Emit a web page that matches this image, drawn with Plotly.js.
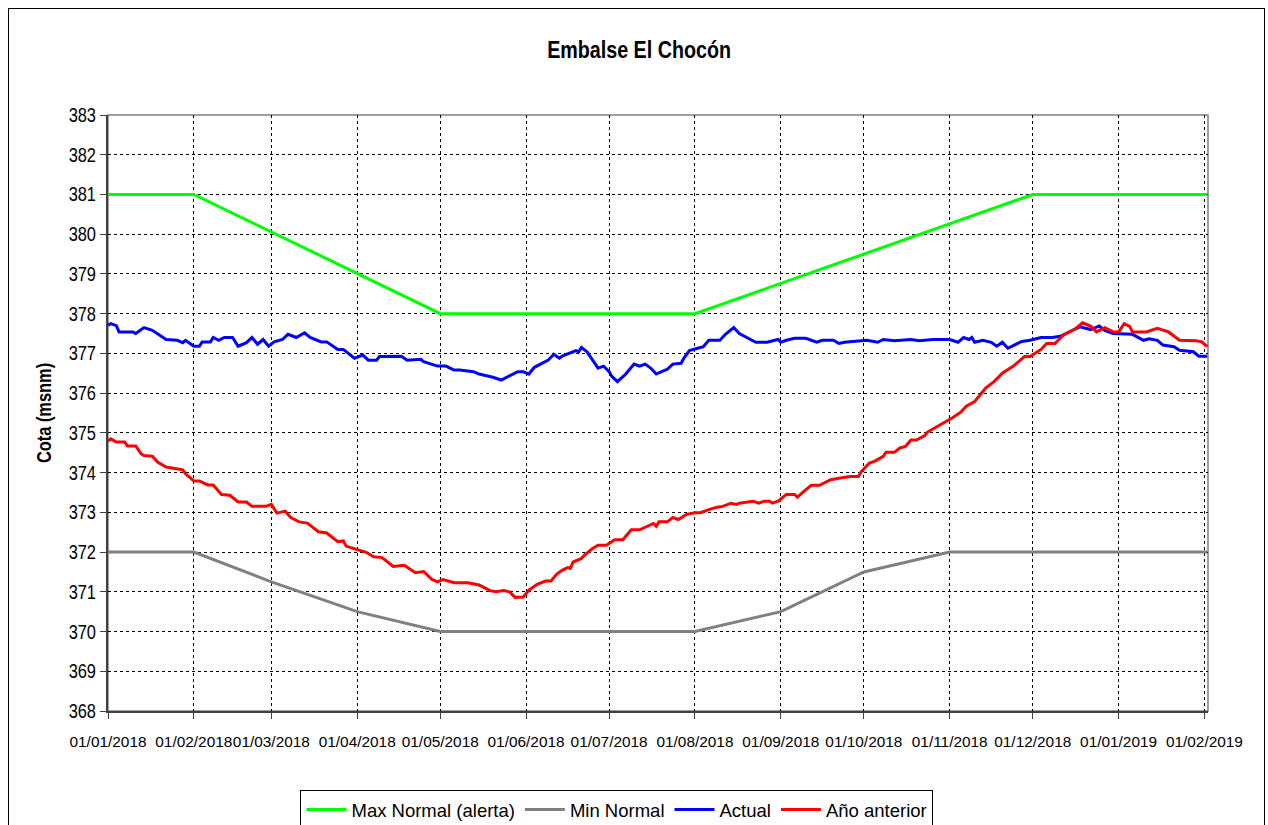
<!DOCTYPE html>
<html>
<head>
<meta charset="utf-8">
<script src="https://cdn.plot.ly/plotly-3.0.1.min.js"></script>
<style>
  html, body { margin: 0; padding: 0; background: #fff; overflow: hidden; }
  #frame { position: absolute; left: 8px; top: 8px; width: 1257px; height: 860px; border: 1px solid #000; box-sizing: border-box; pointer-events: none; z-index: 5; }
  #chart { position: absolute; left: 0; top: 0; width: 1268px; height: 860px; }
</style>
</head>
<body>
<div id="chart"></div>
<div id="frame"></div>
<script>
// ---- Data ----
const maxDates = ['2018-01-01','2018-02-01','2018-05-01','2018-08-01','2018-12-01','2019-02-02'];
const maxValues = [381, 381, 378, 378, 381, 381];

const minDates = ['2018-01-01','2018-02-01','2018-03-01','2018-04-01','2018-05-01','2018-08-01','2018-09-01','2018-10-01','2018-11-01','2019-02-02'];
const minValues = [372, 372, 371.25, 370.5, 370, 370, 370.5, 371.5, 372, 372];

const actualDates = ['2018-01-01','2018-01-02','2018-01-04','2018-01-05','2018-01-10','2018-01-11','2018-01-14','2018-01-17','2018-01-22','2018-01-26',
'2018-01-28','2018-01-29','2018-02-01','2018-02-03','2018-02-04','2018-02-07','2018-02-08','2018-02-10','2018-02-12','2018-02-15',
'2018-02-17','2018-02-20','2018-02-22','2018-02-24','2018-02-26','2018-02-28','2018-03-02','2018-03-05','2018-03-07','2018-03-10',
'2018-03-13','2018-03-15','2018-03-19','2018-03-21','2018-03-25','2018-03-27','2018-03-31','2018-04-03','2018-04-05','2018-04-08',
'2018-04-09','2018-04-13','2018-04-17','2018-04-19','2018-04-24','2018-04-25','2018-04-30','2018-05-03','2018-05-06','2018-05-08',
'2018-05-13','2018-05-15','2018-05-19','2018-05-20','2018-05-23','2018-05-25','2018-05-27','2018-05-29','2018-05-31','2018-06-02',
'2018-06-04','2018-06-07','2018-06-09','2018-06-11','2018-06-13','2018-06-14','2018-06-16','2018-06-19','2018-06-20','2018-06-21',
'2018-06-23','2018-06-25','2018-06-26','2018-06-27','2018-06-29','2018-07-01','2018-07-02','2018-07-04','2018-07-07','2018-07-10',
'2018-07-12','2018-07-14','2018-07-16','2018-07-18','2018-07-21','2018-07-22','2018-07-24','2018-07-27','2018-07-28','2018-07-30',
'2018-08-02','2018-08-04','2018-08-06','2018-08-10','2018-08-12','2018-08-15','2018-08-17','2018-08-20','2018-08-23','2018-08-27',
'2018-08-31','2018-09-01','2018-09-03','2018-09-06','2018-09-10','2018-09-14','2018-09-16','2018-09-20','2018-09-22','2018-09-24',
'2018-09-28','2018-10-02','2018-10-06','2018-10-08','2018-10-12','2018-10-18','2018-10-21','2018-10-26','2018-11-01','2018-11-04',
'2018-11-06','2018-11-08','2018-11-09','2018-11-10','2018-11-13','2018-11-16','2018-11-18','2018-11-20','2018-11-22','2018-11-25',
'2018-11-27','2018-11-30','2018-12-04','2018-12-08','2018-12-11','2018-12-15','2018-12-18','2018-12-22','2018-12-25','2018-12-27',
'2018-12-30','2019-01-06','2019-01-10','2019-01-12','2019-01-15','2019-01-17','2019-01-21','2019-01-23','2019-01-28','2019-01-30',
'2019-02-02'];
const actualValues = [377.71,377.75,377.70,377.54,377.54,377.50,377.65,377.58,377.35,377.33,
377.27,377.33,377.18,377.18,377.29,377.29,377.40,377.33,377.40,377.40,
377.18,377.27,377.40,377.23,377.35,377.18,377.29,377.35,377.48,377.40,
377.52,377.40,377.29,377.29,377.10,377.10,376.88,376.96,376.83,376.83,
376.92,376.93,376.93,376.83,376.85,376.79,376.68,376.68,376.58,376.58,
376.54,376.48,376.42,376.40,376.33,376.40,376.46,376.54,376.54,376.48,
376.65,376.77,376.83,376.98,376.88,376.93,376.98,377.07,377.04,377.15,
377.04,376.85,376.75,376.63,376.68,376.54,376.42,376.29,376.48,376.73,
376.68,376.73,376.63,376.48,376.57,376.60,376.73,376.75,376.88,377.07,
377.13,377.17,377.33,377.33,377.48,377.65,377.50,377.38,377.28,377.28,
377.35,377.28,377.33,377.38,377.38,377.28,377.33,377.33,377.25,377.28,
377.30,377.33,377.28,377.35,377.32,377.35,377.32,377.35,377.35,377.28,
377.40,377.35,377.40,377.28,377.33,377.28,377.18,377.28,377.13,377.22,
377.30,377.33,377.40,377.40,377.43,377.57,377.67,377.60,377.69,377.58,
377.50,377.48,377.33,377.37,377.33,377.21,377.17,377.08,377.04,376.93,
376.93];

const prevDates = ['2018-01-01','2018-01-02','2018-01-04','2018-01-07','2018-01-08','2018-01-11','2018-01-13','2018-01-14','2018-01-17','2018-01-19',
'2018-01-22','2018-01-25','2018-01-28','2018-01-29','2018-02-01','2018-02-03','2018-02-06','2018-02-08','2018-02-11','2018-02-14',
'2018-02-17','2018-02-20','2018-02-22','2018-02-27','2018-03-01','2018-03-03','2018-03-06','2018-03-08','2018-03-11','2018-03-14',
'2018-03-18','2018-03-21','2018-03-22','2018-03-25','2018-03-27','2018-03-28','2018-04-01','2018-04-04','2018-04-07','2018-04-10',
'2018-04-14','2018-04-18','2018-04-22','2018-04-25','2018-04-28','2018-04-30','2018-05-02','2018-05-06','2018-05-11','2018-05-15',
'2018-05-19','2018-05-21','2018-05-24','2018-05-26','2018-05-28','2018-05-31','2018-06-02','2018-06-05','2018-06-08','2018-06-10',
'2018-06-12','2018-06-14','2018-06-16','2018-06-17','2018-06-18','2018-06-21','2018-06-22','2018-06-25','2018-06-27','2018-06-30',
'2018-07-03','2018-07-06','2018-07-07','2018-07-09','2018-07-12','2018-07-15','2018-07-17','2018-07-18','2018-07-19','2018-07-22',
'2018-07-24','2018-07-26','2018-07-29','2018-08-01','2018-08-03','2018-08-06','2018-08-09','2018-08-11','2018-08-14','2018-08-16',
'2018-08-17','2018-08-20','2018-08-22','2018-08-24','2018-08-26','2018-08-28','2018-08-29','2018-08-31','2018-09-03','2018-09-06',
'2018-09-07','2018-09-09','2018-09-12','2018-09-15','2018-09-19','2018-09-23','2018-09-26','2018-09-29','2018-09-30','2018-10-03',
'2018-10-05','2018-10-08','2018-10-09','2018-10-12','2018-10-14','2018-10-16','2018-10-18','2018-10-20','2018-10-23','2018-10-24',
'2018-10-26','2018-10-29','2018-10-31','2018-11-02','2018-11-05','2018-11-07','2018-11-10','2018-11-14','2018-11-17','2018-11-20',
'2018-11-24','2018-11-28','2018-11-30','2018-12-04','2018-12-06','2018-12-09','2018-12-12','2018-12-16','2018-12-19','2018-12-22',
'2018-12-24','2018-12-27','2018-12-30','2019-01-01','2019-01-03','2019-01-05','2019-01-06','2019-01-11','2019-01-15','2019-01-19',
'2019-01-23','2019-01-27','2019-01-29','2019-01-31','2019-02-02'];
const prevValues = [374.79,374.85,374.77,374.77,374.67,374.67,374.47,374.43,374.41,374.26,
374.14,374.10,374.07,373.97,373.79,373.79,373.69,373.69,373.45,373.43,
373.26,373.26,373.15,373.15,373.20,372.98,373.03,372.87,372.76,372.73,
372.51,372.48,372.42,372.26,372.28,372.15,372.06,372.00,371.88,371.86,
371.64,371.67,371.48,371.51,371.31,371.25,371.31,371.23,371.23,371.17,
371.03,371.00,371.03,371.00,370.86,370.87,371.04,371.19,371.27,371.27,
371.44,371.54,371.61,371.59,371.75,371.84,371.92,372.09,372.17,372.17,
372.31,372.31,372.40,372.56,372.56,372.65,372.72,372.65,372.76,372.76,
372.87,372.82,372.95,372.99,372.99,373.07,373.13,373.15,373.23,373.20,
373.23,373.26,373.28,373.23,373.28,373.28,373.23,373.28,373.45,373.45,
373.38,373.51,373.68,373.68,373.82,373.87,373.90,373.90,374.02,374.24,
374.29,374.41,374.51,374.51,374.62,374.66,374.82,374.82,374.93,375.02,
375.10,375.21,375.31,375.38,375.52,375.67,375.79,376.13,376.29,376.50,
376.68,376.92,376.92,377.10,377.25,377.25,377.46,377.60,377.77,377.68,
377.54,377.65,377.54,377.54,377.75,377.68,377.54,377.54,377.63,377.54,
377.33,377.33,377.32,377.29,377.17];

const seriesNames = ['Max Normal (alerta)', 'Min Normal', 'Actual', 'Año anterior'];
const chartTitle = 'Embalse El Chocón';
const yTitle = 'Cota (msnm)';

// ---- Chart ----
const sans = '"Liberation Sans", Arial, sans-serif';

const traces = [
  { x: maxDates, y: maxValues, name: seriesNames[0], mode: 'lines', line: { color: '#00FF00', width: 3 } },
  { x: minDates, y: minValues, name: seriesNames[1], mode: 'lines', line: { color: '#808080', width: 3 } },
  { x: actualDates, y: actualValues, name: seriesNames[2], mode: 'lines', line: { color: '#0000FF', width: 3 } },
  { x: prevDates, y: prevValues, name: seriesNames[3], mode: 'lines', line: { color: '#FF0000', width: 3 } }
];

const layout = {
  width: 1268, height: 860,
  margin: { l: 108, r: 60, t: 115, b: 149 },
  paper_bgcolor: '#ffffff', plot_bgcolor: '#ffffff',
  font: { family: sans, size: 20, color: '#000' },
  title: { text: chartTitle, font: { family: sans, size: 24, weight: 'bold', color: '#000' },
           xref: 'container', yref: 'container', x: 0.504, y: 1 - 50 / 860, xanchor: 'center', yanchor: 'middle' },
  xaxis: {
    type: 'date', range: ['2018-01-01', '2019-02-02 07:00'],
    tick0: '2018-01-01', dtick: 'M1', tickformat: '%d/%m/%Y', tickangle: 0,
    ticklabelstandoff: 10,
    showgrid: true, gridcolor: '#000', griddash: '3px,3px', gridwidth: 1,
    showline: true, linecolor: '#404040', linewidth: 2,
    ticks: 'outside', ticklen: 6, tickcolor: '#404040', tickwidth: 1,
    tickfont: { family: sans, size: 15.4, color: '#000' },
    zeroline: false, fixedrange: true
  },
  yaxis: {
    range: [368, 383], dtick: 1, tick0: 368,
    showgrid: true, gridcolor: '#000', griddash: '3px,3px', gridwidth: 1,
    showline: true, linecolor: '#404040', linewidth: 2,
    ticks: 'outside', ticklen: 6, tickcolor: '#404040', tickwidth: 1,
    tickfont: { family: sans, size: 20, color: '#000' },
    title: { text: yTitle, font: { family: sans, size: 20, weight: 'bold', color: '#000' }, standoff: 6 },
    zeroline: false, fixedrange: true
  },
  shapes: [
    { type: 'rect', xref: 'paper', yref: 'paper', x0: 0, x1: 1, y0: 0, y1: 1,
      line: { color: '#808080', width: 1.5 }, layer: 'below' }
  ],
  showlegend: true,
  legend: {
    orientation: 'h', x: 0.4627, xanchor: 'center', y: -79 / 596, yanchor: 'top',
    bordercolor: '#000', borderwidth: 1, bgcolor: '#fff',
    font: { family: sans, size: 18.5, color: '#000' },
    itemwidth: 40, traceorder: 'normal'
  },
  hovermode: false
};

Plotly.newPlot('chart', traces, layout, { displayModeBar: false, staticPlot: true }).then(function (gd) {
  // The original chart uses a condensed face; narrow the glyphs of these texts.
  gd.querySelectorAll('.ytick text, .gtitle, .ytitle').forEach(function (t) {
    const L = t.getComputedTextLength();
    if (L > 0) {
      t.setAttribute('textLength', (L * 0.82).toFixed(2));
      t.setAttribute('lengthAdjust', 'spacingAndGlyphs');
    }
  });
});
</script>
</body>
</html>
